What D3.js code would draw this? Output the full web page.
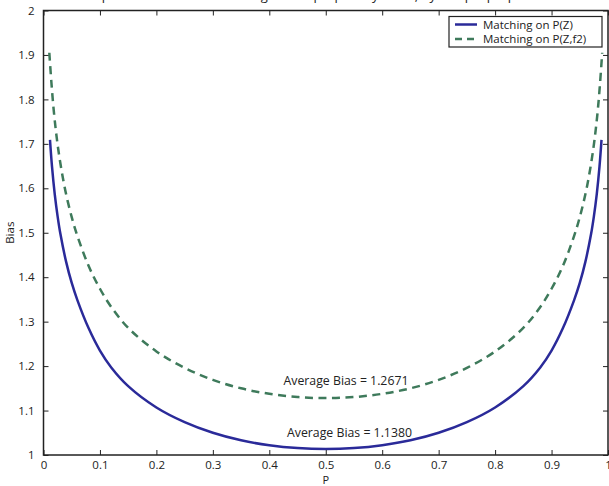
<!DOCTYPE html>
<html lang="en">
<head>
    <meta charset="UTF-8">
    <script src="https://cdn.jsdelivr.net/npm/d3@7"></script>
    <title>Bias vs P</title>
    <style>
        body { margin: 0; background: #fff; }
        text { font-family: "Open Sans", "DejaVu Sans", sans-serif; fill: #222; }
    </style>
</head>
<body>
    <div class="fig"></div>

    <script>
        // values
        const pBlue = [0.0115, 0.015, 0.02, 0.025, 0.03, 0.04, 0.05, 0.06, 0.08, 0.1, 0.12, 0.15, 0.2, 0.25, 0.3, 0.35, 0.4, 0.45, 0.5,
                       0.55, 0.6, 0.65, 0.7, 0.75, 0.8, 0.85, 0.88, 0.9, 0.92, 0.94, 0.95, 0.96, 0.97, 0.975, 0.98, 0.985, 0.9885];
        const biasPZ = [1.709, 1.650, 1.586, 1.537, 1.497, 1.435, 1.387, 1.3485, 1.285, 1.235, 1.197, 1.155, 1.107, 1.074, 1.050, 1.033, 1.022, 1.0156, 1.0135,
                        1.0156, 1.022, 1.033, 1.050, 1.074, 1.107, 1.155, 1.197, 1.235, 1.285, 1.3485, 1.387, 1.435, 1.497, 1.537, 1.586, 1.650, 1.709];
        const pGreen = [0.0103, 0.014, 0.018, 0.022, 0.026, 0.032, 0.04, 0.05, 0.06, 0.08, 0.1, 0.12, 0.15, 0.2, 0.25, 0.3, 0.35, 0.4, 0.45, 0.5,
                        0.55, 0.6, 0.65, 0.7, 0.75, 0.8, 0.85, 0.88, 0.9, 0.92, 0.94, 0.95, 0.96, 0.968, 0.974, 0.978, 0.982, 0.986, 0.9897];
        const biasPZf2 = [1.905, 1.838, 1.777, 1.729, 1.689, 1.640, 1.587, 1.535, 1.493, 1.425, 1.374, 1.333, 1.286, 1.233, 1.196, 1.169, 1.150, 1.1376, 1.1304, 1.128,
                          1.1304, 1.1376, 1.150, 1.169, 1.196, 1.233, 1.286, 1.333, 1.374, 1.425, 1.493, 1.535, 1.587, 1.640, 1.689, 1.729, 1.777, 1.838, 1.905];
        const seriesNames = ["Matching on P(Z)", "Matching on P(Z,f2)"];
        const avgLabels = ["Average Bias = 1.1380", "Average Bias = 1.2671"];
        const xTicks = [0, 0.1, 0.2, 0.3, 0.4, 0.5, 0.6, 0.7, 0.8, 0.9, 1];
        const yTicks = [1, 1.1, 1.2, 1.3, 1.4, 1.5, 1.6, 1.7, 1.8, 1.9, 2];
        const titleText = "Expected bias when matching on the propensity score, by sample proportion P";

        const width = 609, height = 486;
        const margin = { left: 43.5, right: 1, top: 10.5, bottom: 31 };

        const svg = d3.select(".fig").append("svg")
            .attr("width", width)
            .attr("height", height);

        const x = d3.scaleLinear().domain([0, 1]).range([margin.left, width - margin.right]);
        const y = d3.scaleLinear().domain([1, 2]).range([height - margin.bottom, margin.top]);

        // title, mostly cut off at the top like in the original
        svg.append("text")
            .attr("x", (x(0) + x(1)) / 2)
            .attr("y", -0.5)
            .attr("text-anchor", "middle")
            .style("font-size", "13px")
            .attr("fill", "#555")
            .text(titleText);

        // curves
        const colors = ["#2a2a99", "#3e7a5b"];
        const series = [[pBlue, biasPZ], [pGreen, biasPZf2]];
        const line = d3.line()
            .x(d => x(d[0]))
            .y(d => y(d[1]))
            .curve(d3.curveCatmullRom.alpha(0.5));

        series.forEach(([ps, vals], i) => {
            svg.append("path")
                .datum(ps.map((p, j) => [p, vals[j]]))
                .attr("d", line)
                .attr("fill", "none")
                .attr("stroke", colors[i])
                .attr("stroke-width", 2.5)
                .attr("stroke-dasharray", i === 1 ? "8,5.5" : null);
        });

        // axes with ticks on all four sides, pointing in
        const tickLen = 5;
        const fmt = d => d3.format("")(+d.toFixed(1));
        const axBottom = svg.append("g").attr("transform", `translate(0,${y(1)})`)
            .call(d3.axisBottom(x).tickValues(xTicks).tickSize(-tickLen).tickPadding(6).tickFormat(fmt));
        const axTop = svg.append("g").attr("transform", `translate(0,${y(2)})`)
            .call(d3.axisTop(x).tickValues(xTicks).tickSize(-tickLen).tickFormat(""));
        const axLeft = svg.append("g").attr("transform", `translate(${x(0)},0)`)
            .call(d3.axisLeft(y).tickValues(yTicks).tickSize(-tickLen).tickPadding(9).tickFormat(fmt));
        const axRight = svg.append("g").attr("transform", `translate(${x(1)},0)`)
            .call(d3.axisRight(y).tickValues(yTicks).tickSize(-tickLen).tickFormat(""));

        [axBottom, axTop, axLeft, axRight].forEach(g => {
            g.select(".domain").remove();
            g.selectAll(".tick line").attr("stroke", "#222").attr("stroke-width", 1);
            g.selectAll(".tick text").style("font-size", "11.5px").style("font-family", "'Open Sans', sans-serif").attr("fill", "#222");
        });

        // frame
        svg.append("rect")
            .attr("x", x(0)).attr("y", y(2))
            .attr("width", x(1) - x(0)).attr("height", y(1) - y(2))
            .attr("fill", "none").attr("stroke", "#222").attr("stroke-width", 1.5);

        // axis labels
        svg.append("text")
            .attr("x", x(0.5)).attr("y", 484)
            .attr("text-anchor", "middle")
            .style("font-size", "11px")
            .text("P");
        svg.append("text")
            .attr("transform", `translate(14,${y(1.5)}) rotate(-90)`)
            .attr("text-anchor", "middle")
            .style("font-size", "11.5px")
            .text("Bias");

        // average bias annotations
        svg.append("text")
            .attr("x", 349.5).attr("y", y(1.04))
            .attr("text-anchor", "middle")
            .style("font-size", "12.3px")
            .text(avgLabels[0]);
        svg.append("text")
            .attr("x", 346).attr("y", y(1.158))
            .attr("text-anchor", "middle")
            .style("font-size", "12.3px")
            .text(avgLabels[1]);

        // legend
        const lg = svg.append("g").attr("transform", "translate(449,16.5)");
        lg.append("rect")
            .attr("width", 153).attr("height", 30.5)
            .attr("fill", "#fff").attr("stroke", "#222").attr("stroke-width", 1.2);
        seriesNames.forEach((name, i) => {
            const cy = 8 + i * 14.5;
            lg.append("line")
                .attr("x1", 6).attr("x2", 28).attr("y1", cy).attr("y2", cy)
                .attr("stroke", colors[i]).attr("stroke-width", 2.5)
                .attr("stroke-dasharray", i === 1 ? "7,5" : null);
            lg.append("text")
                .attr("x", 34).attr("y", cy + 4)
                .style("font-size", "11.5px")
                .text(name);
        });
    </script>
</body>
</html>
